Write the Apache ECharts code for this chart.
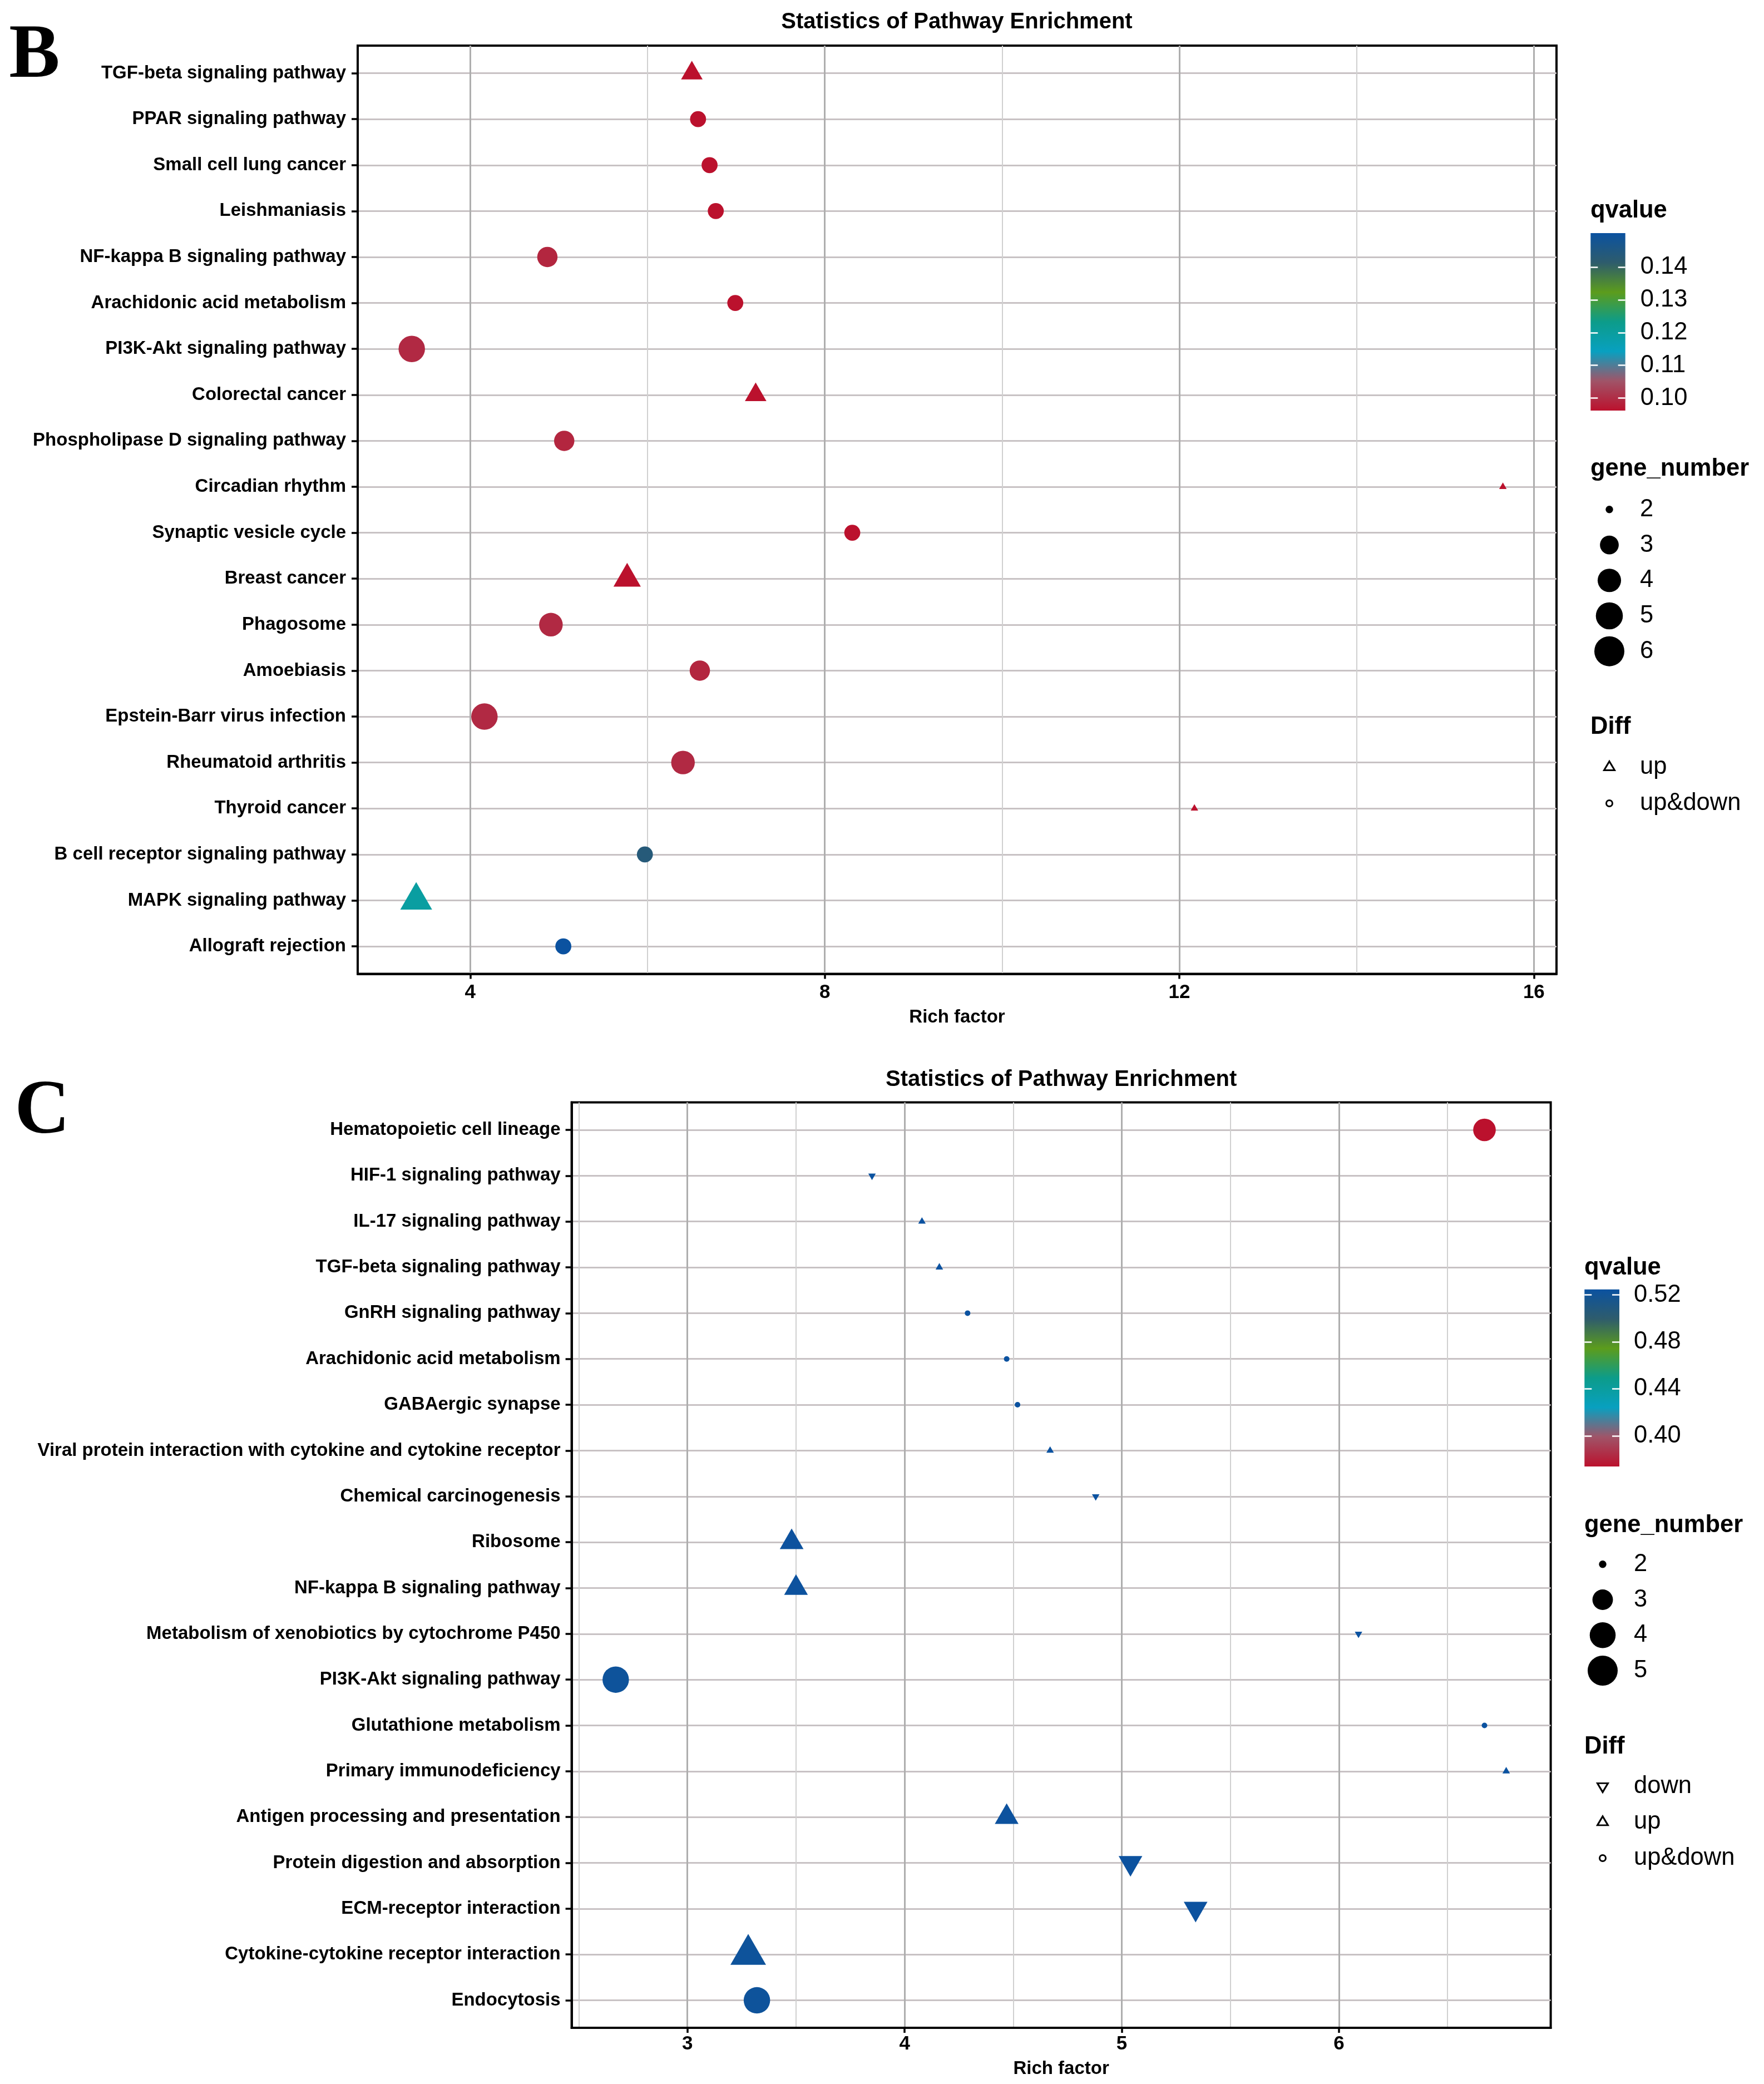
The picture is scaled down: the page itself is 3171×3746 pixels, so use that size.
<!DOCTYPE html>
<html><head><meta charset="utf-8">
<script src="https://cdn.jsdelivr.net/npm/echarts@6/dist/echarts.min.js"></script>
<style>html,body{margin:0;padding:0;background:#fff}#c{width:3171px;height:3746px}</style>
</head><body><div id="c"></div>
<script>
// ---------- Panel B data ----------
const pathwaysB = ['TGF-beta signaling pathway','PPAR signaling pathway','Small cell lung cancer','Leishmaniasis','NF-kappa B signaling pathway','Arachidonic acid metabolism','PI3K-Akt signaling pathway','Colorectal cancer','Phospholipase D signaling pathway','Circadian rhythm','Synaptic vesicle cycle','Breast cancer','Phagosome','Amoebiasis','Epstein-Barr virus infection','Rheumatoid arthritis','Thyroid cancer','B cell receptor signaling pathway','MAPK signaling pathway','Allograft rejection'];
const richFactorB = [6.50, 6.57, 6.70, 6.77, 4.87, 6.99, 3.34, 7.22, 5.06, 15.65, 8.31, 5.77, 4.91, 6.59, 4.16, 6.40, 12.17, 5.97, 3.39, 5.05];
const geneNumberB = [3, 3, 3, 3, 4, 3, 6, 3, 4, 2, 3, 4, 5, 4, 6, 5, 2, 3, 5, 3];
const qvalueB = [0.0962, 0.0962, 0.0962, 0.0962, 0.0990, 0.0962, 0.0995, 0.0962, 0.0990, 0.0962, 0.0962, 0.0962, 0.0995, 0.0990, 0.0995, 0.0995, 0.0962, 0.1435, 0.1195, 0.15035];
const diffB = ['up','up&down','up&down','up&down','up&down','up&down','up&down','up','up&down','up','up&down','up','up&down','up&down','up&down','up&down','up','up&down','up','up&down'];
const xTicksB = [4, 8, 12, 16];
const xMinorB = [6, 10, 14];
const qTicksB = [0.10, 0.11, 0.12, 0.13, 0.14];
const geneLegendB = [2, 3, 4, 5, 6];
const diffLegendB = ['up', 'up&down'];

// ---------- Panel C data ----------
const pathwaysC = ['Hematopoietic cell lineage','HIF-1 signaling pathway','IL-17 signaling pathway','TGF-beta signaling pathway','GnRH signaling pathway','Arachidonic acid metabolism','GABAergic synapse','Viral protein interaction with cytokine and cytokine receptor','Chemical carcinogenesis','Ribosome','NF-kappa B signaling pathway','Metabolism of xenobiotics by cytochrome P450','PI3K-Akt signaling pathway','Glutathione metabolism','Primary immunodeficiency','Antigen processing and presentation','Protein digestion and absorption','ECM-receptor interaction','Cytokine-cytokine receptor interaction','Endocytosis'];
const richFactorC = [6.67, 3.85, 4.08, 4.16, 4.29, 4.47, 4.52, 4.67, 4.88, 3.48, 3.50, 6.09, 2.67, 6.67, 6.77, 4.47, 5.04, 5.34, 3.28, 3.32];
const geneNumberC = [4, 2, 2, 2, 2, 2, 2, 2, 2, 3, 3, 2, 5, 2, 2, 3, 3, 3, 5, 5];
const qvalueC = [0.3739, 0.5247, 0.5247, 0.5247, 0.5247, 0.5247, 0.5247, 0.5247, 0.5247, 0.5235, 0.5235, 0.5247, 0.5222, 0.5247, 0.5247, 0.5235, 0.5240, 0.5240, 0.5225, 0.5222];
const diffC = ['up&down','down','up','up','up&down','up&down','up&down','up','down','up','up','down','up&down','up&down','up','up','down','down','up','up&down'];
const xTicksC = [3, 4, 5, 6];
const xMinorC = [2.5, 3.5, 4.5, 5.5, 6.5];
const qTicksC = [0.40, 0.44, 0.48, 0.52];
const geneLegendC = [2, 3, 4, 5];
const diffLegendC = ['down', 'up', 'up&down'];

// ---------- styling ----------
const FONT = '"Liberation Sans", Arial, Helvetica, sans-serif';
const SERIF = '"Liberation Serif", "Times New Roman", serif';
const PALETTE = ['#bb112d', '#a05468', '#08a0c0', '#0c9c8a', '#5c9c1c', '#2e5c6c', '#0b52a0'];
const DOWN_PATH = 'path://M0,0L10,0L5,8.66Z';
const UP_PATH = 'path://M5,0L10,8.66L0,8.66Z';

function markerSize(g, gmin, gmax) {
  const t = gmax > gmin ? (g - gmin) / (gmax - gmin) : 1;
  return 10 + 37.5 * Math.sqrt(t);
}
function legendKeySize(g, gmin, gmax) {
  return 13.5 + 40.5 * Math.sqrt((g - gmin) / (gmax - gmin));
}
function shapeFor(diff, d) {
  if (diff === 'up&down') return { symbol: 'circle', symbolSize: d, symbolOffset: [0, 0] };
  const a = 1.3468 * d, h = 0.866 * a;
  if (diff === 'up') return { symbol: 'triangle', symbolSize: [a, h], symbolOffset: [0, -h / 6] };
  return { symbol: DOWN_PATH, symbolSize: [a, h], symbolOffset: [0, h / 6] };
}

const panels = [
  { names: pathwaysB, rich: richFactorB, gene: geneNumberB, q: qvalueB, diff: diffB,
    xTicks: xTicksB, xMinor: xMinorB, qTicks: qTicksB, geneKeys: geneLegendB, diffKeys: diffLegendB,
    letter: 'B', letterXY: [62, 103], titleXY: [1720, 40],
    main: { left: 643, top: 82, width: 2155, height: 1668.6 }, xRange: [2.73, 16.255],
    xLabelMargin: 16, nameGap: 62, yLabelMargin: 21,
    cbar: { left: 2859.3, top: 419, width: 62.4, height: 319 }, cbarLabelMargin: 27,
    geneBox: { left: 2870, top: 884, width: 46, height: 318.5 },
    diffBox: { left: 2870, top: 1346.5, width: 46, height: 130 }, keyLabelMargin: 32,
    legendTitleX: 2859, legendTitleY: [378.5, 843, 1307] },
  { names: pathwaysC, rich: richFactorC, gene: geneNumberC, q: qvalueC, diff: diffC,
    xTicks: xTicksC, xMinor: xMinorC, qTicks: qTicksC, geneKeys: geneLegendC, diffKeys: diffLegendC,
    letter: 'C', letterXY: [76, 2001], titleXY: [1907.6, 1941],
    main: { left: 1027.6, top: 1981.6, width: 1760, height: 1663.4 }, xRange: [2.467, 6.975],
    xLabelMargin: 12, nameGap: 57, yLabelMargin: 20,
    cbar: { left: 2848.3, top: 2317.7, width: 62.7, height: 318.3 }, cbarLabelMargin: 26,
    geneBox: { left: 2858, top: 2780, width: 46, height: 254.8 },
    diffBox: { left: 2858, top: 3178.7, width: 46, height: 193.5 }, keyLabelMargin: 33,
    legendTitleX: 2848, legendTitleY: [2279, 2742, 3140] }
];

const grid = [], xAxis = [], yAxis = [], series = [], visualMap = [], graphic = [];
const txt = (text, x, y, font, align) => ({ type: 'text', silent: true, z: 100,
  style: { text, x, y, font, fill: '#000', align: align, verticalAlign: 'middle', textAlign: align, textVerticalAlign: 'middle' } });

panels.forEach((p) => {
  const n = p.names.length;
  const idx = p.names.map((_, i) => i);
  const gmin = Math.min(...p.gene), gmax = Math.max(...p.gene);
  const qmin = Math.min(...p.q), qmax = Math.max(...p.q);

  // ---- main plot ----
  const g0 = grid.length;
  grid.push(Object.assign({ show: true, borderColor: '#000', borderWidth: 4, backgroundColor: '#fff' }, p.main));
  const xa0 = xAxis.length;
  xAxis.push({
    gridIndex: g0, type: 'value', min: p.xRange[0], max: p.xRange[1], position: 'bottom',
    axisLine: { show: true, onZero: false, lineStyle: { color: '#000', width: 4 } },
    axisTick: { show: true, customValues: p.xTicks, length: 9, lineStyle: { color: '#000', width: 3.5 } },
    axisLabel: { customValues: p.xTicks, margin: p.xLabelMargin, fontSize: 35, fontWeight: 'bold', color: '#000', fontFamily: FONT },
    splitLine: { show: true, lineStyle: { color: '#aeaeae', width: 3 } },
    name: 'Rich factor', nameLocation: 'middle', nameGap: p.nameGap,
    nameTextStyle: { fontSize: 33, fontWeight: 'bold', color: '#000', fontFamily: FONT }
  });
  xAxis.push({
    gridIndex: g0, type: 'value', min: p.xRange[0], max: p.xRange[1], position: 'top',
    axisLine: { show: false }, axisTick: { show: false, customValues: p.xMinor }, axisLabel: { show: false },
    splitLine: { show: true, lineStyle: { color: '#d0d0d0', width: 2 } }
  });
  const ya0 = yAxis.length;
  yAxis.push({
    gridIndex: g0, type: 'value', min: -0.6, max: n - 1 + 0.6, inverse: true,
    axisLine: { show: true, onZero: false, lineStyle: { color: '#000', width: 4 } },
    axisTick: { show: true, customValues: idx, length: 11, lineStyle: { color: '#000', width: 3.5 } },
    axisLabel: { customValues: idx, formatter: (v) => p.names[Math.round(v)], margin: p.yLabelMargin,
      fontSize: 33, fontWeight: 'bold', color: '#000', fontFamily: FONT },
    splitLine: { show: true, lineStyle: { color: '#c8c2c4', width: 3 } }
  });
  const sIdx = series.length;
  series.push({
    type: 'scatter', xAxisIndex: xa0, yAxisIndex: ya0, silent: true, z: 5,
    itemStyle: { opacity: 1 },
    data: p.names.map((name, i) => Object.assign({ name, value: [p.rich[i], i, p.q[i], p.gene[i]] },
      shapeFor(p.diff[i], markerSize(p.gene[i], gmin, gmax))))
  });
  visualMap.push({ type: 'continuous', show: false, seriesIndex: sIdx, dimension: 2, min: qmin, max: qmax, inRange: { color: PALETTE } });

  // ---- colour bar ----
  const g1 = grid.length;
  grid.push(Object.assign({}, p.cbar));
  const xa1 = xAxis.length;
  xAxis.push({ gridIndex: g1, type: 'category', data: ['q'], show: false });
  const ya1 = yAxis.length;
  const tickCommon = { show: true, inside: true, length: 13, customValues: p.qTicks, lineStyle: { color: '#ffffff', width: 2.5 } };
  yAxis.push({
    gridIndex: g1, type: 'value', min: qmin, max: qmax, position: 'right', z: 10,
    axisLine: { show: false }, splitLine: { show: false }, axisTick: tickCommon,
    axisLabel: { customValues: p.qTicks, formatter: (v) => v.toFixed(2), margin: p.cbarLabelMargin, fontSize: 43.5, color: '#000', fontFamily: FONT }
  });
  yAxis.push({
    gridIndex: g1, type: 'value', min: qmin, max: qmax, position: 'left', z: 10,
    axisLine: { show: false }, splitLine: { show: false }, axisTick: tickCommon, axisLabel: { show: false }
  });
  const stops = PALETTE.map((c, i) => ({ offset: 1 - i / (PALETTE.length - 1), color: c })).reverse();
  series.push({
    type: 'custom', xAxisIndex: xa1, yAxisIndex: ya1, silent: true, z: 2,
    data: [[0, qmax, qmin]],
    renderItem: (params, api) => {
      const t = api.coord([api.value(0), api.value(1)]);
      const b = api.coord([api.value(0), api.value(2)]);
      const w = api.size([1, 0])[0];
      return { type: 'rect', shape: { x: t[0] - w / 2, y: t[1], width: w, height: b[1] - t[1] },
        style: { fill: new echarts.graphic.LinearGradient(0, 0, 0, 1, stops) } };
    }
  });

  // ---- gene_number keys ----
  const g2 = grid.length;
  grid.push(Object.assign({}, p.geneBox));
  const xa2 = xAxis.length;
  xAxis.push({ gridIndex: g2, type: 'category', data: ['k'], show: false });
  const ya2 = yAxis.length;
  yAxis.push({
    gridIndex: g2, type: 'category', data: p.geneKeys.map(String), inverse: true, position: 'right',
    axisLine: { show: false }, axisTick: { show: false }, splitLine: { show: false },
    axisLabel: { margin: p.keyLabelMargin, fontSize: 43.5, color: '#000', fontFamily: FONT }
  });
  series.push({
    type: 'scatter', xAxisIndex: xa2, yAxisIndex: ya2, silent: true,
    itemStyle: { color: '#000', opacity: 1 },
    data: p.geneKeys.map((g, i) => ({ value: [0, i], symbol: 'circle', symbolSize: legendKeySize(g, p.geneKeys[0], p.geneKeys[p.geneKeys.length - 1]) }))
  });

  // ---- Diff keys ----
  const g3 = grid.length;
  grid.push(Object.assign({}, p.diffBox));
  const xa3 = xAxis.length;
  xAxis.push({ gridIndex: g3, type: 'category', data: ['k'], show: false });
  const ya3 = yAxis.length;
  yAxis.push({
    gridIndex: g3, type: 'category', data: p.diffKeys, inverse: true, position: 'right',
    axisLine: { show: false }, axisTick: { show: false }, splitLine: { show: false },
    axisLabel: { margin: p.keyLabelMargin, fontSize: 43.5, color: '#000', fontFamily: FONT }
  });
  series.push({
    type: 'scatter', xAxisIndex: xa3, yAxisIndex: ya3, silent: true,
    itemStyle: { color: '#fff', borderColor: '#000', borderWidth: 3, opacity: 1 },
    data: p.diffKeys.map((d, i) => {
      if (d === 'up&down') return { value: [0, i], symbol: 'circle', symbolSize: 11 };
      if (d === 'up') return { value: [0, i], symbol: UP_PATH, symbolSize: [19, 16], symbolOffset: [0, -2.5] };
      return { value: [0, i], symbol: DOWN_PATH, symbolSize: [19, 16], symbolOffset: [0, 2.5] };
    })
  });

  // ---- texts ----
  graphic.push(txt(p.letter, p.letterXY[0], p.letterXY[1], 'bold 137px ' + SERIF, 'center'));
  graphic.push(txt('Statistics of Pathway Enrichment', p.titleXY[0], p.titleXY[1], 'bold 40px ' + FONT, 'center'));
  ['qvalue', 'gene_number', 'Diff'].forEach((t, k) => {
    graphic.push(txt(t, p.legendTitleX, p.legendTitleY[k], 'bold 43.5px ' + FONT, 'left'));
  });
});

const chart = echarts.init(document.getElementById('c'), null, { renderer: 'canvas' });
chart.setOption({
  animation: false,
  backgroundColor: '#ffffff',
  textStyle: { fontFamily: FONT },
  grid, xAxis, yAxis, series, visualMap, graphic
});
</script>
</body></html>
